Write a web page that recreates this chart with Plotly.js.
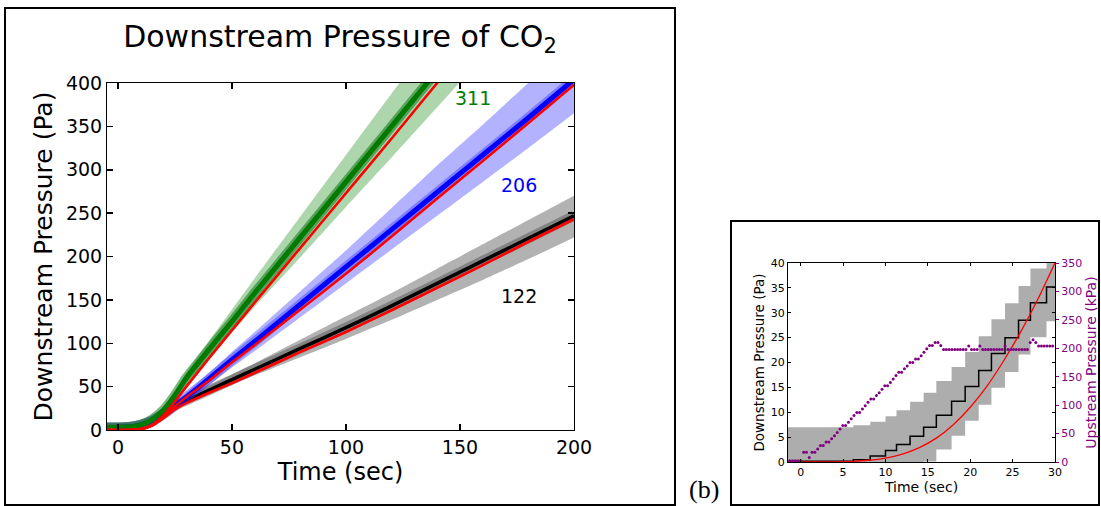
<!DOCTYPE html>
<html>
<head>
<meta charset="utf-8">
<script src="https://cdn.plot.ly/plotly-3.0.1.min.js"></script>
<style>html,body{margin:0;padding:0;background:#fff;}#chart{width:1101px;height:506px;}</style>
</head>
<body>
<div id="chart"></div>
<script>
// ---------- Panel (a): downstream pressure of CO2 ----------
const timeA = [-5, 0, 5, 10, 15, 20, 25, 30, 40, 50, 60, 80, 100, 120, 140, 160, 180, 200];

const green311Mid   = [3, 3, 3.5, 6, 12, 23, 40, 60, 93, 125, 158, 222, 286, 350, 414, 478, 542, 606];
const green311Upper = [6, 6, 6.5, 8, 14, 26, 44, 66, 103, 139, 175, 246, 317, 388, 458, 530, 600, 670];
const green311Lower = [0.5, 0.5, 1, 4, 10, 20, 36, 54, 84, 112, 142, 199, 257, 314, 372, 430, 488, 545];
const green311Model = [0, 0, 0, 1, 6, 17, 33, 50, 83, 115, 147, 210, 273, 336, 400, 463, 526, 589];

const blue206Mid   = [3, 3, 3.5, 6, 11, 19, 28, 38, 59, 81, 102, 145, 188, 231, 274, 317, 360, 404];
const blue206Upper = [6, 6, 6.5, 8, 13, 22, 32, 43, 66, 90, 113, 160, 207, 256, 305, 352, 400, 445];
const blue206Lower = [0.5, 0.5, 1, 4, 9, 16, 24, 33, 52, 72, 91, 130, 169, 208, 247, 286, 325, 365];
const blue206Model = [0, 0, 0, 1, 5.5, 15, 27, 38, 57, 78, 98, 139, 180, 223, 267, 310, 354, 398];

const black122Mid   = [3, 3, 3.5, 6, 10, 18, 28, 34, 46, 58, 70, 94, 118, 143, 169, 195, 221, 247];
const black122Upper = [6, 6, 6.5, 8, 12, 21, 31, 38, 51, 64, 77, 104, 131, 158, 186, 214, 242, 270];
const black122Lower = [0.5, 0.5, 1, 4, 8, 15, 25, 30, 41, 52, 63, 84, 105, 127, 150, 173, 197, 222];
const black122Model = [0, 0, 0, 1, 5, 14, 24, 31, 43, 54, 66, 90, 113, 138, 164, 190, 217, 243];

const seriesLabels = ["311", "206", "122"];
const ticksA_x = [0, 50, 100, 150, 200];
const ticksA_y = [0, 50, 100, 150, 200, 250, 300, 350, 400];

// ---------- Panel (b): downstream steps and upstream pressure ----------
const stepTime  = [-1.5, 6.2, 8.2, 10.0, 11.3, 12.9, 14.5, 16.0, 17.8, 19.4, 21.0, 22.5, 24.1, 25.7, 27.1, 29.0, 30.0];
const stepValue = [0.13, 0.47, 1.2, 2.3, 3.5, 5.2, 7.0, 9.4, 12.2, 15.2, 18.4, 21.8, 25.0, 28.5, 32.0, 35.2, 35.2];
const stepUpper = [7.0, 7.4, 8.1, 9.2, 10.4, 12.1, 13.9, 16.3, 19.1, 22.1, 25.3, 28.7, 31.9, 35.4, 38.9, 42.1, 42.1];
const stepLower = [0, 0, 0, 0, 0, 0, 0.1, 2.5, 5.3, 8.3, 11.5, 14.9, 18.1, 21.6, 25.1, 28.3, 28.3];

const modelTimeB  = [-1.5, 0, 2, 4, 6, 8, 10, 12, 14, 16, 18, 20, 22, 24, 26, 28, 30];
const modelValueB = [0, 0, 0, 0.03, 0.12, 0.35, 0.8, 1.6, 2.9, 4.8, 7.5, 11, 15.3, 20.5, 26.3, 32.8, 40];

const upstreamStart = -1.3, upstreamStep = 0.33;   // sampling grid of the upstream gauge
const upstreamKPa = [
  2, 2, 2, 2, 2,
  17, 17, 8, 17, 17,
  23, 29, 29, 35, 35,
  41, 46, 52, 58, 64,
  64, 70, 76, 82, 87,
  87, 93, 99, 105, 111,
  111, 117, 122, 128, 134,
  134, 140, 146, 152, 158,
  158, 164, 169, 175, 175,
  181, 181, 187, 193, 199,
  205, 205, 210, 210, 205,
  198, 198, 198, 198, 198,
  198, 198, 198, 198, 204,
  198, 198, 198, 204, 198,
  198, 198, 198, 198, 198,
  198, 198, 204, 198, 198,
  198, 198, 198, 198, 198,
  198, 210, 215, 210, 204,
  204, 204, 204, 204, 204
];
const upstreamTime = upstreamKPa.map((_, i) => +(upstreamStart + i * upstreamStep).toFixed(2));

const ticksB_x = [0, 5, 10, 15, 20, 25, 30];
const ticksB_y = [0, 5, 10, 15, 20, 25, 30, 35, 40];
const ticksB_y2 = [0, 50, 100, 150, 200, 250, 300, 350];

// ---------- build traces ----------
const W = 1101, H = 506;
const px = v => v / W, py = v => 1 - v / H;
const FONT = "DejaVu Sans, Verdana, sans-serif";

function bandTraces(lower, upper, fill) {
  return [
    {x: timeA, y: lower, xaxis: 'x', yaxis: 'y', mode: 'lines', line: {width: 0, shape: 'spline', smoothing: 0.5}, hoverinfo: 'skip', showlegend: false},
    {x: timeA, y: upper, xaxis: 'x', yaxis: 'y', mode: 'lines', line: {width: 0, shape: 'spline', smoothing: 0.5}, fill: 'tonexty', fillcolor: fill, hoverinfo: 'skip', showlegend: false}
  ];
}
function dataTraces(mid, halo, core, coreW) {
  return [
    {x: timeA, y: mid, xaxis: 'x', yaxis: 'y', mode: 'lines', line: {color: halo, width: 10, shape: 'spline', smoothing: 0.5}, showlegend: false},
    {x: timeA, y: mid, xaxis: 'x', yaxis: 'y', mode: 'lines', line: {color: core, width: coreW, shape: 'spline', smoothing: 0.5}, showlegend: false}
  ];
}
function modelTrace(model) {
  return {x: timeA, y: model, xaxis: 'x', yaxis: 'y', mode: 'lines', line: {color: '#ff0000', width: 2.6, shape: 'spline', smoothing: 0.5}, showlegend: false};
}

const traces = [
  ...bandTraces(black122Lower, black122Upper, 'rgba(0,0,0,0.3)'),
  ...bandTraces(blue206Lower, blue206Upper, 'rgba(0,0,255,0.3)'),
  ...bandTraces(green311Lower, green311Upper, 'rgba(0,128,0,0.32)'),
  ...dataTraces(black122Mid, 'rgba(60,60,60,0.4)', '#000000', 3.5),
  ...dataTraces(blue206Mid, 'rgba(60,60,255,0.45)', '#0000ff', 5),
  ...dataTraces(green311Mid, 'rgba(0,110,0,0.5)', '#007a00', 5),
  modelTrace(black122Model),
  modelTrace(blue206Model),
  modelTrace(green311Model),
  // panel b
  {x: stepTime, y: stepLower, xaxis: 'x2', yaxis: 'y2', mode: 'lines', line: {width: 0, shape: 'hv'}, hoverinfo: 'skip', showlegend: false},
  {x: stepTime, y: stepUpper, xaxis: 'x2', yaxis: 'y2', mode: 'lines', line: {width: 0, shape: 'hv'}, fill: 'tonexty', fillcolor: 'rgba(0,0,0,0.32)', hoverinfo: 'skip', showlegend: false},
  {x: stepTime, y: stepValue, xaxis: 'x2', yaxis: 'y2', mode: 'lines', line: {color: '#000', width: 1.5, shape: 'hv'}, showlegend: false},
  {x: modelTimeB, y: modelValueB, xaxis: 'x2', yaxis: 'y2', mode: 'lines', line: {color: '#ff0000', width: 1.3, shape: 'spline', smoothing: 0.6}, showlegend: false},
  {x: upstreamTime, y: upstreamKPa, xaxis: 'x2', yaxis: 'y3', mode: 'markers', marker: {color: '#800080', size: 3}, showlegend: false}
];

const axA = {
  showgrid: false, zeroline: false, showline: true, linecolor: '#000', linewidth: 1,
  ticks: 'inside', ticklen: 6, tickwidth: 1.5, tickcolor: '#000', mirror: 'ticks',
  tickfont: {family: FONT, size: 19, color: '#000'}
};
const axB = {
  showgrid: false, zeroline: false, showline: true, linecolor: '#000', linewidth: 1,
  ticks: 'inside', ticklen: 3, tickwidth: 1, tickcolor: '#000', mirror: 'ticks',
  tickfont: {family: FONT, size: 11, color: '#000'}
};

const layout = {
  width: W, height: H, margin: {l: 0, r: 0, t: 0, b: 0},
  paper_bgcolor: '#fff', plot_bgcolor: 'rgba(0,0,0,0)', showlegend: false,
  font: {family: FONT, color: '#000'},
  title: {text: 'Downstream Pressure of CO<sub>2</sub>', x: px(340), y: py(36), xanchor: 'center', yanchor: 'middle', font: {family: FONT, size: 30, color: '#000'}},
  xaxis: Object.assign({}, axA, {domain: [px(107), px(574)], range: [-4.8, 200], tickvals: ticksA_x, anchor: 'y',
    title: {text: 'Time (sec)', font: {family: FONT, size: 24}, standoff: 4}}),
  yaxis: Object.assign({}, axA, {domain: [py(430), py(83)], range: [0, 400], tickvals: ticksA_y, anchor: 'x',
    title: {text: 'Downstream Pressure (Pa)', font: {family: FONT, size: 25}, standoff: 6}}),
  xaxis2: Object.assign({}, axB, {domain: [px(788), px(1055)], range: [-1.5, 30], tickvals: ticksB_x, anchor: 'y2',
    title: {text: 'Time (sec)', font: {family: FONT, size: 14}, standoff: 1}}),
  yaxis2: Object.assign({}, axB, {domain: [py(462), py(263)], range: [0, 40], tickvals: ticksB_y, anchor: 'x2',
    title: {text: 'Downstream Pressure (Pa)', font: {family: FONT, size: 13.5}, standoff: 3}}),
  yaxis3: {overlaying: 'y2', side: 'right', anchor: 'x2', range: [0, 350], tickvals: ticksB_y2,
    showgrid: false, zeroline: false, showline: false, ticks: 'outside', ticklen: 3, tickcolor: '#800080',
    tickfont: {family: FONT, size: 11, color: '#800080'},
    title: {text: 'Upstream Pressure (kPa)', font: {family: FONT, size: 14, color: '#800080'}, standoff: 4}},
  annotations: [
    {xref: 'x', yref: 'y', x: 155.6, y: 383, text: seriesLabels[0], showarrow: false, font: {family: FONT, size: 19, color: '#008000'}},
    {xref: 'x', yref: 'y', x: 175.8, y: 282, text: seriesLabels[1], showarrow: false, font: {family: FONT, size: 19, color: '#0000ff'}},
    {xref: 'x', yref: 'y', x: 175.8, y: 155, text: seriesLabels[2], showarrow: false, font: {family: FONT, size: 19, color: '#000000'}},
    {xref: 'paper', yref: 'paper', x: px(704), y: py(489), text: '(b)', showarrow: false, xanchor: 'center', yanchor: 'middle', font: {family: 'Liberation Serif, Times New Roman, serif', size: 26, color: '#000'}}
  ],
  shapes: [
    {type: 'rect', xref: 'paper', yref: 'paper', x0: px(5), x1: px(675), y0: py(505), y1: py(8), line: {color: '#000', width: 2}},
    {type: 'rect', xref: 'paper', yref: 'paper', x0: px(731), x1: px(1099), y0: py(505), y1: py(221), line: {color: '#000', width: 2}}
  ]
};

Plotly.newPlot('chart', traces, layout, {displayModeBar: false, staticPlot: true});
</script>
</body>
</html>
